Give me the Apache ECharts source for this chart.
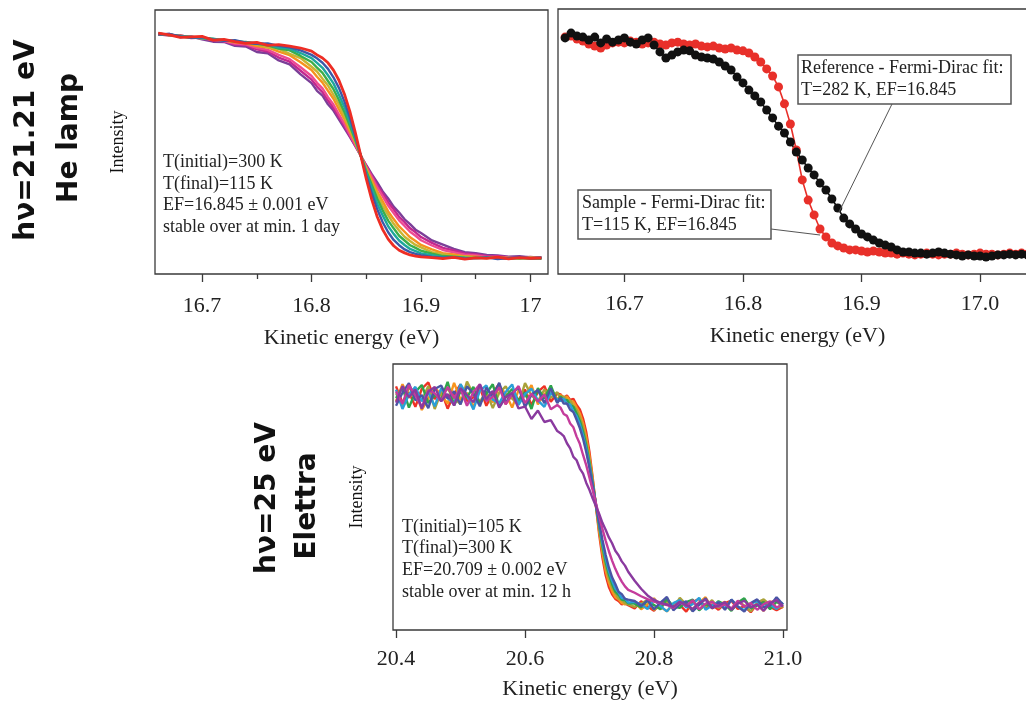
<!DOCTYPE html>
<html>
<head>
<meta charset="utf-8">
<script src="https://cdn.jsdelivr.net/npm/echarts@6/dist/echarts.min.js"></script>
<style>
  html, body { margin: 0; padding: 0; background: #ffffff; }
  #chart { width: 1026px; height: 702px; }
</style>
</head>
<body>
<div id="chart"></div>
<script>
// ---------- He lamp, temperature series (normalised intensity, %) ----------
const heEnergy = [16.66, 16.67, 16.68, 16.69, 16.70, 16.71, 16.72, 16.73, 16.74, 16.75, 16.76, 16.77, 16.78, 16.79,
  16.80, 16.805, 16.81, 16.815, 16.82, 16.825, 16.83, 16.835, 16.84, 16.845, 16.85, 16.855, 16.86, 16.865, 16.87,
  16.875, 16.88, 16.885, 16.89, 16.895, 16.90, 16.91, 16.92, 16.93, 16.94, 16.95, 16.96, 16.97, 16.98, 16.99, 17.00, 17.01];

const hePurple = [90.6, 90.9, 89.7, 89.9, 88.9, 88.0, 87.9, 86.4, 86.2, 84.1, 83.6, 80.9, 79.4, 75.6, 72.3, 69.4, 67.6, 64.3, 61.9, 58.6, 55.3, 51.9, 48.4, 44.8, 41.2, 37.8, 34.7, 31.3, 28.6, 25.5, 23.3, 20.7, 18.9, 16.8, 15.5, 12.7, 11.1, 9.5, 8.3, 7.9, 7.2, 7.0, 6.6, 6.7, 6.3, 6.4];
const heMagenta = [90.8, 90.3, 90.5, 89.4, 89.6, 88.5, 88.2, 86.9, 86.7, 85.1, 84.3, 82.0, 80.4, 77.0, 73.6, 71.0, 68.9, 65.7, 62.9, 59.4, 56.1, 52.3, 48.6, 44.8, 41.0, 37.4, 33.6, 30.5, 27.1, 24.5, 21.6, 19.6, 17.3, 15.8, 14.0, 11.8, 9.9, 8.9, 7.8, 7.4, 6.8, 6.7, 6.4, 6.3, 6.5, 6.1];
const hePink = [91.2, 90.5, 90.0, 89.9, 89.2, 88.8, 88.2, 87.3, 87.0, 85.7, 84.9, 83.0, 81.4, 78.3, 75.0, 72.4, 70.3, 67.0, 64.2, 60.5, 57.0, 52.9, 48.9, 44.8, 40.6, 36.7, 32.8, 29.4, 25.9, 23.1, 20.3, 18.2, 16.0, 14.5, 12.8, 10.8, 9.1, 8.2, 7.3, 7.0, 6.5, 6.5, 6.1, 6.2, 5.9, 6.1];
const heOrange = [90.7, 90.8, 89.9, 89.5, 89.6, 88.7, 88.5, 87.8, 87.4, 86.3, 85.8, 84.2, 82.9, 80.2, 77.3, 74.7, 72.5, 69.4, 66.4, 62.4, 58.6, 54.0, 49.7, 44.8, 40.0, 35.7, 31.2, 27.5, 23.7, 20.8, 18.0, 16.0, 13.9, 12.5, 11.0, 9.3, 7.9, 7.4, 6.7, 6.6, 6.2, 6.3, 5.9, 6.1, 5.8, 6.2];
const heGold = [91.1, 90.4, 90.3, 89.7, 89.3, 89.0, 88.4, 88.1, 87.6, 87.0, 85.9, 85.3, 83.4, 81.8, 78.5, 76.7, 74.0, 71.4, 67.9, 64.2, 59.7, 55.2, 49.9, 44.8, 39.8, 34.5, 30.1, 25.8, 22.3, 19.0, 16.5, 14.1, 12.5, 11.0, 10.1, 8.3, 7.5, 6.7, 6.6, 6.2, 6.3, 5.9, 6.2, 5.8, 6.3, 6.0];
const heGreen = [90.9, 90.7, 90.0, 89.6, 89.5, 88.9, 88.7, 88.0, 87.9, 87.2, 86.6, 85.4, 84.7, 82.6, 80.3, 78.2, 76.2, 73.1, 70.0, 65.9, 61.4, 56.1, 50.7, 44.8, 38.9, 33.7, 28.5, 24.1, 20.2, 17.3, 14.5, 12.7, 10.9, 9.9, 8.8, 7.7, 6.8, 6.6, 6.2, 6.1, 6.0, 6.3, 5.9, 6.1, 5.9, 5.8];
const heTeal = [91.0, 90.5, 90.1, 89.9, 89.3, 89.1, 88.5, 88.3, 87.7, 87.4, 86.9, 85.8, 85.4, 83.7, 81.8, 80.0, 78.1, 75.3, 72.2, 67.9, 63.3, 57.5, 51.5, 44.8, 38.2, 32.3, 26.6, 22.2, 18.1, 15.2, 12.7, 11.0, 9.5, 8.7, 7.8, 7.1, 6.4, 6.3, 6.1, 5.9, 6.2, 6.0, 5.8, 6.1, 6.0, 5.9];
const heBlue = [90.7, 90.9, 90.0, 89.5, 89.7, 88.8, 88.3, 88.6, 87.6, 87.2, 87.3, 86.4, 85.9, 84.7, 83.0, 81.7, 80.0, 77.7, 74.5, 70.5, 65.4, 59.3, 52.3, 44.8, 37.3, 30.5, 24.5, 19.6, 15.8, 12.9, 10.9, 9.3, 8.3, 7.6, 7.1, 6.5, 6.2, 6.4, 5.8, 6.1, 6.3, 5.7, 6.0, 6.4, 5.9, 6.2];
const heRed = [91.2, 90.6, 89.6, 89.8, 90.0, 88.6, 88.9, 88.0, 87.4, 87.7, 86.6, 86.9, 86.3, 85.6, 84.4, 83.0, 81.8, 80.0, 77.2, 73.4, 68.2, 61.6, 53.6, 44.8, 36.0, 28.2, 21.7, 16.8, 13.2, 10.7, 9.0, 8.0, 7.2, 6.8, 6.5, 6.2, 5.8, 6.3, 5.6, 6.1, 5.9, 6.4, 5.7, 6.2, 5.9, 6.0];

const heTicks = [16.7, 16.8, 16.9, 17.0];
const heMinorTicks = [16.75, 16.85, 16.95];

// ---------- Reference vs sample ----------
const cmpEnergy = [16.65, 16.655, 16.66, 16.665, 16.67, 16.675, 16.68, 16.685, 16.69, 16.695, 16.70, 16.705, 16.71,
  16.715, 16.72, 16.725, 16.73, 16.735, 16.74, 16.745, 16.75, 16.755, 16.76, 16.765, 16.77, 16.775, 16.78, 16.785,
  16.79, 16.795, 16.80, 16.805, 16.81, 16.815, 16.82, 16.825, 16.83, 16.835, 16.84, 16.845, 16.85, 16.855, 16.86,
  16.865, 16.87, 16.875, 16.88, 16.885, 16.89, 16.895, 16.90, 16.905, 16.91, 16.915, 16.92, 16.925, 16.93, 16.935,
  16.94, 16.945, 16.95, 16.955, 16.96, 16.965, 16.97, 16.975, 16.98, 16.985, 16.99, 16.995, 17.00, 17.005, 17.01,
  17.015, 17.02, 17.025, 17.03, 17.035, 17.04];
const sampleIntensity = [89.4, 89.8, 88.7, 87.9, 86.8, 86.0, 85.3, 86.4, 87.2, 87.5,
  87.2, 87.9, 87.5, 86.8, 87.2, 87.5, 86.8, 86.4, 87.2, 87.5,
  86.8, 86.4, 86.8, 86.0, 85.7, 86.0, 85.3, 84.9, 85.3, 84.5,
  84.2, 83.4, 81.9, 80.0, 77.4, 74.7, 70.6, 64.2, 56.6, 46.8,
  35.5, 27.9, 22.3, 17.0, 14.0, 11.7, 10.6, 9.8, 9.1, 9.1,
  8.7, 8.3, 8.7, 8.3, 7.9, 7.9, 7.5, 7.9, 7.5, 7.2,
  7.5, 7.9, 7.5, 7.2, 7.5, 7.5, 7.9, 7.5, 7.2, 7.5,
  7.9, 7.5, 7.5, 7.2, 7.5, 7.9, 7.5, 7.9, 7.5];
const referenceIntensity = [89.1, 90.9, 89.8, 89.4, 88.3, 89.4, 87.2, 88.7, 87.5, 88.3,
  89.1, 87.5, 86.8, 88.3, 89.1, 86.4, 83.8, 81.5, 82.6, 83.8,
  84.5, 84.2, 82.6, 81.9, 81.5, 81.1, 80.0, 78.5, 77.0, 74.3,
  72.1, 69.4, 67.2, 64.9, 61.9, 58.9, 55.8, 53.2, 49.8, 46.0,
  43.0, 40.0, 37.4, 34.3, 31.7, 28.3, 24.9, 21.1, 18.9, 17.0,
  15.1, 14.0, 12.8, 11.7, 10.9, 10.2, 9.1, 8.3, 8.3, 7.9,
  7.9, 7.5, 7.9, 8.3, 7.9, 7.5, 7.2, 6.8, 7.2, 6.8,
  6.8, 6.4, 6.8, 7.2, 7.2, 7.5, 7.2, 7.5, 7.2];
const cmpTicks = [16.7, 16.8, 16.9, 17.0];

// ---------- Elettra, 25 eV ----------
const elEnergy = [20.40, 20.41, 20.42, 20.43, 20.44, 20.45, 20.46, 20.47, 20.48, 20.49, 20.50, 20.51, 20.52, 20.53,
  20.54, 20.55, 20.56, 20.57, 20.58, 20.59, 20.60, 20.61, 20.62, 20.63, 20.64, 20.65,
  20.655, 20.66, 20.665, 20.67, 20.675, 20.68, 20.685, 20.69, 20.695, 20.70, 20.705, 20.71, 20.715, 20.72, 20.725,
  20.73, 20.735, 20.74, 20.745, 20.75, 20.755, 20.76,
  20.77, 20.78, 20.79, 20.80, 20.81, 20.82, 20.83, 20.84, 20.85, 20.86, 20.87, 20.88, 20.89, 20.90, 20.91, 20.92,
  20.93, 20.94, 20.95, 20.96, 20.97, 20.98, 20.99, 21.00];

const elRed = [91.6, 85.5, 89.4, 83.9, 90.7, 93.1, 86.8, 90.0, 83.2, 88.7, 92.3, 86.1, 87.5, 91.2, 84.3, 89.0, 92.6, 84.9, 88.3, 86.5, 90.4, 84.6, 89.5, 91.7, 85.8, 88.9,
  88.6, 87.1, 88.2, 86.5, 86.9, 84.6, 82.9, 79.5, 74.3, 66.8, 57.2, 46.4, 35.9, 27.2, 20.6, 16.2, 13.4, 11.7, 10.9, 9.6, 10.1, 9.3,
  8.1, 10.8, 8.8, 7.2, 10.3, 11.4, 8.3, 9.4, 6.9, 10.5, 11.7, 8.5, 9.6, 7.6, 10.1, 11.0, 7.9, 9.0, 6.7, 9.9, 11.2, 8.7, 7.4, 8.8];
const elOrange = [86.0, 92.4, 87.3, 89.9, 82.7, 87.0, 91.1, 88.5, 85.1, 92.9, 86.6, 89.2, 83.8, 90.6, 88.2, 85.6, 91.4, 89.0, 83.6, 90.2, 87.7, 92.1, 84.8, 88.7, 90.9, 86.5,
  88.4, 86.9, 87.8, 85.9, 85.9, 83.6, 81.4, 77.7, 72.4, 65.2, 56.4, 46.6, 37.1, 28.9, 22.4, 17.8, 14.6, 12.3, 11.6, 10.2, 9.6, 10.1,
  10.5, 7.8, 9.7, 11.9, 8.7, 7.0, 9.9, 11.2, 9.0, 7.9, 10.3, 12.3, 8.1, 9.4, 10.6, 7.4, 10.1, 11.5, 8.5, 9.6, 7.2, 10.5, 11.0, 8.3];
const elOlive = [89.0, 84.1, 91.2, 88.3, 86.3, 91.7, 83.1, 89.5, 90.7, 87.2, 84.9, 93.4, 88.5, 85.8, 89.7, 83.4, 89.2, 91.6, 87.0, 84.8, 92.8, 88.2, 86.0, 90.4, 87.3, 89.4,
  86.8, 87.9, 86.2, 86.3, 84.2, 82.7, 80.0, 76.1, 70.7, 63.9, 55.7, 46.8, 38.1, 30.4, 24.2, 19.4, 16.0, 13.9, 11.8, 11.3, 10.1, 9.6,
  8.7, 9.9, 11.4, 7.6, 9.0, 10.5, 8.1, 12.1, 9.6, 7.2, 10.1, 8.8, 11.2, 8.3, 9.7, 7.8, 10.8, 9.2, 7.0, 10.3, 11.5, 9.4, 8.1, 9.0];
const elGreen = [87.2, 91.1, 83.6, 89.5, 92.1, 85.3, 88.3, 86.5, 93.3, 84.4, 89.7, 87.5, 91.4, 85.1, 88.9, 92.4, 83.9, 87.7, 90.6, 86.1, 89.4, 83.1, 90.9, 87.0, 91.9, 85.6,
  87.9, 86.2, 86.5, 84.6, 83.9, 81.3, 78.6, 74.5, 69.3, 62.7, 55.1, 47.0, 39.0, 31.7, 25.7, 20.9, 17.3, 14.4, 13.2, 11.4, 11.2, 10.0,
  9.9, 8.5, 11.0, 9.4, 7.8, 11.7, 8.8, 8.3, 10.5, 11.4, 7.4, 9.7, 8.7, 10.8, 9.6, 7.2, 10.3, 11.9, 8.1, 9.2, 10.5, 7.8, 10.6, 9.4];
const elLightBlue = [90.4, 83.1, 88.5, 91.4, 86.0, 89.4, 84.1, 90.9, 87.3, 84.9, 92.4, 88.2, 82.9, 90.0, 91.9, 86.6, 85.3, 89.5, 92.3, 84.6, 88.7, 90.7, 86.3, 83.9, 89.2, 86.6,
  86.1, 87.0, 84.9, 84.8, 82.1, 80.4, 77.3, 73.1, 68.0, 61.7, 54.7, 47.1, 39.7, 32.8, 27.0, 22.2, 18.6, 15.6, 14.1, 12.0, 11.8, 10.3,
  10.6, 9.6, 7.9, 11.5, 9.0, 7.0, 10.1, 11.2, 8.5, 9.7, 12.1, 7.6, 9.2, 10.5, 8.1, 11.4, 8.8, 7.4, 9.9, 10.8, 8.7, 9.6, 7.9, 10.3];
const elBlue = [84.3, 89.2, 92.8, 86.3, 88.3, 83.4, 90.6, 91.9, 87.0, 89.7, 84.8, 91.6, 88.9, 84.1, 91.1, 87.8, 92.9, 85.5, 89.0, 91.2, 83.8, 88.5, 90.2, 85.3, 90.8, 85.3,
  87.3, 85.1, 85.2, 82.8, 81.9, 79.0, 75.9, 71.9, 66.8, 60.8, 54.2, 47.2, 40.2, 33.9, 28.3, 23.5, 19.8, 17.3, 14.4, 13.5, 11.7, 11.4,
  10.9, 9.0, 11.2, 7.8, 10.3, 12.4, 7.4, 9.7, 10.8, 7.0, 9.4, 11.9, 8.1, 10.5, 7.6, 11.4, 8.8, 6.9, 10.1, 11.5, 8.5, 9.2, 12.3, 9.6];
const elMagenta = [89.7, 85.1, 92.1, 88.2, 83.8, 90.2, 89.0, 86.0, 91.4, 87.2, 90.6, 84.3, 89.5, 92.4, 86.1, 87.7, 91.2, 84.8, 88.7, 91.7, 85.3, 88.8, 85.9, 88.5, 83.0, 84.6,
  83.6, 81.2, 80.5, 77.6, 76.2, 72.7, 70.0, 65.8, 61.9, 57.2, 52.5, 47.6, 42.7, 38.0, 33.6, 29.6, 26.1, 23.0, 20.4, 18.2, 16.4, 15.1,
  14.0, 12.7, 11.6, 10.7, 10.0, 9.4, 8.3, 10.5, 9.0, 11.2, 7.8, 9.9, 10.6, 8.7, 9.6, 8.1, 11.0, 8.8, 10.1, 7.6, 9.7, 10.8, 8.5, 9.4];
const elPurple = [85.5, 91.7, 87.5, 90.4, 83.2, 89.5, 91.4, 86.0, 88.7, 84.4, 90.9, 88.3, 85.6, 92.3, 86.8, 89.9, 83.6, 87.5, 89.1, 83.3, 84.0, 79.3, 82.5, 78.2, 78.9, 74.8,
  74.0, 72.9, 70.2, 68.3, 65.1, 63.8, 60.7, 58.8, 55.3, 52.6, 49.4, 46.5, 43.6, 40.3, 37.7, 34.8, 32.6, 29.8, 28.1, 25.8, 24.2, 21.9,
  18.5, 15.5, 13.0, 11.3, 10.2, 9.6, 8.7, 10.6, 9.4, 7.9, 10.3, 11.4, 8.3, 9.2, 10.5, 7.6, 9.9, 11.0, 8.5, 9.6, 7.2, 10.1, 11.2, 8.8];

const elTicks = [20.4, 20.6, 20.8, 21.0];

// ---------- styling ----------
const SERIF = "'Liberation Serif', 'Times New Roman', serif";
const TITLE_FONT = "'DejaVu Sans', 'Noto Sans', sans-serif";
const AXIS_COLOR = '#3a3a3a';

const pairs = (xs, ys) => xs.map((x, i) => [x, ys[i]]);

function bottomAxis(gridIndex, min, max, ticks, fmt, labelMargin, nameGap) {
  return {
    gridIndex, type: 'value', position: 'bottom', min, max,
    axisLine: { show: false },
    splitLine: { show: false },
    axisTick: { show: true, customValues: ticks, length: 8, lineStyle: { color: AXIS_COLOR, width: 1.3 } },
    axisLabel: {
      show: true, customValues: ticks, formatter: fmt, margin: labelMargin,
      fontFamily: SERIF, fontSize: 22, color: '#222'
    },
    name: 'Kinetic energy (eV)', nameLocation: 'middle', nameGap,
    nameTextStyle: { fontFamily: SERIF, fontSize: 22, color: '#222' }
  };
}

function hiddenY(gridIndex) {
  return {
    gridIndex, type: 'value', min: 0, max: 100,
    axisLine: { show: false }, axisTick: { show: false },
    axisLabel: { show: false }, splitLine: { show: false }
  };
}

// xAxis 0 = He lamp, xAxis 1 = its minor ticks, xAxis 2 = comparison, xAxis 3 = Elettra
function curve(name, xs, ys, color, xIdx, yIdx, width) {
  return {
    name, type: 'line', xAxisIndex: xIdx, yAxisIndex: yIdx,
    data: pairs(xs, ys), showSymbol: false, symbol: 'none',
    lineStyle: { color, width: width || 2.4 }, itemStyle: { color },
    silent: true, clip: true
  };
}

function rotatedText(text, x, y, font) {
  return {
    type: 'text', x, y, rotation: Math.PI / 2, z: 100,
    style: {
      text, font, fill: '#111',
      textAlign: 'center', align: 'center',
      textVerticalAlign: 'middle', verticalAlign: 'middle'
    }
  };
}

function blockText(text, x, y, lineHeight) {
  return {
    type: 'text', x, y, z: 100,
    style: {
      text, font: '18px ' + SERIF, fill: '#222', lineHeight,
      textAlign: 'left', align: 'left',
      textVerticalAlign: 'top', verticalAlign: 'top'
    }
  };
}

const chart = echarts.init(document.getElementById('chart'), null, { renderer: 'canvas' });

const gridBorder = { show: true, borderColor: AXIS_COLOR, borderWidth: 1.3, backgroundColor: 'transparent', containLabel: false, outerBoundsMode: 'none' };

chart.setOption({
  animation: false,
  backgroundColor: '#ffffff',
  grid: [
    Object.assign({ left: 155, top: 10, width: 393, height: 264 }, gridBorder),
    Object.assign({ left: 558, top: 9, width: 479, height: 265 }, gridBorder),
    Object.assign({ left: 393, top: 364, width: 394, height: 266 }, gridBorder)
  ],
  xAxis: [
    bottomAxis(0, 16.657, 17.016, heTicks, v => (Math.abs(v - 17) < 1e-9 ? '17' : v.toFixed(1)), 21, 53),
    {
      gridIndex: 0, type: 'value', position: 'bottom', min: 16.657, max: 17.016,
      axisLine: { show: false }, splitLine: { show: false },
      axisTick: { show: true, customValues: heMinorTicks, length: 5, lineStyle: { color: AXIS_COLOR, width: 1.3 } },
      axisLabel: { show: false, customValues: heMinorTicks }
    },
    bottomAxis(1, 16.644, 17.048, cmpTicks, v => v.toFixed(1), 19, 51),
    bottomAxis(2, 20.3953, 21.0062, elTicks, v => v.toFixed(1), 18, 48)
  ],
  yAxis: [hiddenY(0), hiddenY(1), hiddenY(2)],
  series: [
    curve('300 K', heEnergy, hePurple, '#7b3f98', 0, 0),
    curve('magenta', heEnergy, heMagenta, '#c2288f', 0, 0),
    curve('pink', heEnergy, hePink, '#ee4b91', 0, 0),
    curve('orange', heEnergy, heOrange, '#f6921e', 0, 0),
    curve('gold', heEnergy, heGold, '#c8b432', 0, 0),
    curve('green', heEnergy, heGreen, '#3cae49', 0, 0),
    curve('teal', heEnergy, heTeal, '#1ea79c', 0, 0),
    curve('blue', heEnergy, heBlue, '#3d58a8', 0, 0),
    curve('115 K', heEnergy, heRed, '#ee2d24', 0, 0, 2.8),

    {
      name: 'Sample', type: 'line', xAxisIndex: 2, yAxisIndex: 1,
      data: pairs(cmpEnergy, sampleIntensity),
      symbol: 'circle', symbolSize: 9, showSymbol: true,
      lineStyle: { color: '#e8302a', width: 1.6 }, itemStyle: { color: '#e8302a' }, silent: true
    },
    {
      name: 'Reference', type: 'line', xAxisIndex: 2, yAxisIndex: 1,
      data: pairs(cmpEnergy, referenceIntensity),
      symbol: 'circle', symbolSize: 9, showSymbol: true,
      lineStyle: { color: '#111111', width: 1.6 }, itemStyle: { color: '#111111' }, silent: true
    },

    curve('red', elEnergy, elRed, '#ee3124', 3, 2),
    curve('orange', elEnergy, elOrange, '#f7941d', 3, 2),
    curve('olive', elEnergy, elOlive, '#a9a23a', 3, 2),
    curve('green', elEnergy, elGreen, '#2ea44a', 3, 2),
    curve('light blue', elEnergy, elLightBlue, '#2a9fd8', 3, 2),
    curve('blue', elEnergy, elBlue, '#4a55a5', 3, 2),
    curve('magenta', elEnergy, elMagenta, '#c43c9c', 3, 2),
    curve('purple', elEnergy, elPurple, '#8a3a9f', 3, 2)
  ],
  graphic: [
    rotatedText('hν=21.21 eV', 27, 140, 'bold 28px ' + TITLE_FONT),
    rotatedText('He lamp', 70, 138, 'bold 28px ' + TITLE_FONT),
    rotatedText('Intensity', 118, 142, '18px ' + SERIF),
    rotatedText('hν=25 eV', 268, 498, 'bold 28px ' + TITLE_FONT),
    rotatedText('Elettra', 308, 506, 'bold 28px ' + TITLE_FONT),
    rotatedText('Intensity', 357, 497, '18px ' + SERIF),

    blockText('T(initial)=300 K\nT(final)=115 K\nEF=16.845 ± 0.001 eV\nstable over at min. 1 day', 163, 152, 21.5),
    blockText('T(initial)=105 K\nT(final)=300 K\nEF=20.709 ± 0.002 eV\nstable over at min. 12 h', 402, 516, 21.7),

    { type: 'line', z: 99, shape: { x1: 892, y1: 104, x2: 839, y2: 212 }, style: { stroke: '#555', lineWidth: 1 } },
    { type: 'line', z: 99, shape: { x1: 771, y1: 229, x2: 820, y2: 235 }, style: { stroke: '#555', lineWidth: 1 } },
    { type: 'rect', z: 100, shape: { x: 798, y: 55, width: 213, height: 49 }, style: { fill: '#fff', stroke: '#555', lineWidth: 1.5 } },
    blockText('Reference - Fermi-Dirac fit:\nT=282 K, EF=16.845', 801, 57, 22),
    { type: 'rect', z: 100, shape: { x: 578, y: 190, width: 193, height: 49 }, style: { fill: '#fff', stroke: '#555', lineWidth: 1.5 } },
    blockText('Sample - Fermi-Dirac fit:\nT=115 K, EF=16.845', 582, 192, 22)
  ]
});
</script>
</body>
</html>
